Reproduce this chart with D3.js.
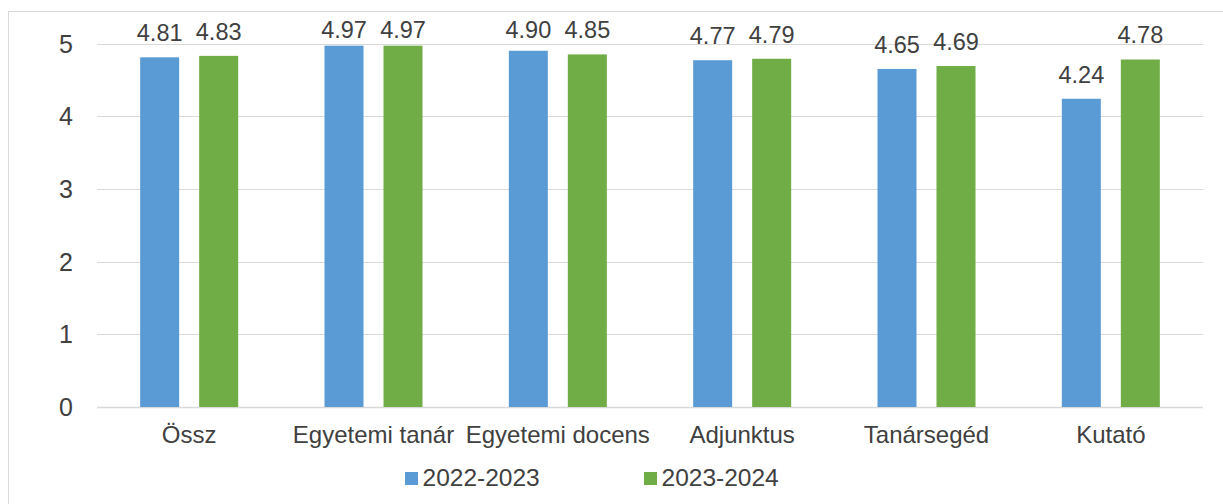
<!DOCTYPE html>
<html>
<head>
<meta charset="utf-8">
<script src="https://cdn.jsdelivr.net/npm/d3@7"></script>
<style>
  body { margin: 0; background: #fff; }
  svg { display: block; font-family: 'Liberation Sans', Arial, sans-serif; }
  .lbl { fill: #404040; }
</style>
</head>
<body>
<svg id="chart" width="1223" height="504"></svg>
<script>
const categories = ['Össz', 'Egyetemi tanár', 'Egyetemi docens', 'Adjunktus', 'Tanársegéd', 'Kutató']
const seriesNames = ['2022-2023', '2023-2024']
const values2022 = [4.81, 4.97, 4.90, 4.77, 4.65, 4.24]
const values2023 = [4.83, 4.97, 4.85, 4.79, 4.69, 4.78]
const yTicks = [0, 1, 2, 3, 4, 5]
const colors = ['#5B9BD5', '#70AD47']

const svg = d3.select('#chart')

// frame (only top and left edges show in the original)
svg.append('rect')
  .attr('x', 8.5).attr('y', 11.5)
  .attr('width', 1300).attr('height', 600)
  .attr('fill', 'none').attr('stroke', '#d9d9d9')

const left = 97, right = 1203
const x0 = d3.scaleBand().domain(categories).range([left, right])
const x1 = d3.scaleBand().domain(seriesNames).range([0, 98]).paddingInner(20 / 59)
const y = d3.scaleLinear().domain([0, 5]).range([407, 43.5])

// gridlines
svg.append('g')
  .selectAll('line')
  .data(yTicks)
  .join('line')
  .attr('x1', left).attr('x2', right)
  .attr('y1', d => Math.round(y(d)) + 0.5)
  .attr('y2', d => Math.round(y(d)) + 0.5)
  .attr('stroke', '#d9d9d9')
  .attr('stroke-width', d => d === 0 ? 1.5 : 1.2)

// y tick labels
svg.append('g')
  .selectAll('text')
  .data(yTicks)
  .join('text')
  .classed('lbl', true)
  .attr('x', 73)
  .attr('y', d => y(d))
  .attr('dy', '0.36em')
  .attr('text-anchor', 'end')
  .attr('font-size', 25)
  .text(d => d)

const rows = categories.map((c, i) => ({ cat: c, vals: [values2022[i], values2023[i]] }))

const groups = svg.append('g')
  .selectAll('g')
  .data(rows)
  .join('g')
  .attr('transform', d => `translate(${x0(d.cat) + x0.bandwidth() / 2 - 49}, 0)`)

groups.selectAll('rect')
  .data(d => d.vals.map((v, j) => ({ s: seriesNames[j], v, j })))
  .join('rect')
  .attr('x', d => x1(d.s))
  .attr('width', x1.bandwidth())
  .attr('y', d => y(d.v))
  .attr('height', d => y(0) - y(d.v))
  .attr('fill', d => colors[d.j])

// value labels (clamped to plot top, like Excel does)
groups.selectAll('text')
  .data(d => d.vals.map((v, j) => ({ s: seriesNames[j], v, j })))
  .join('text')
  .classed('lbl', true)
  .attr('x', d => x1(d.s) + x1.bandwidth() / 2)
  .attr('y', d => Math.max(y(d.v) - 16, 38))
  .attr('text-anchor', 'middle')
  .attr('font-size', 23.5)
  .text(d => d.v.toFixed(2))

// category labels
svg.append('g')
  .selectAll('text')
  .data(categories)
  .join('text')
  .classed('lbl', true)
  .attr('x', d => x0(d) + x0.bandwidth() / 2)
  .attr('y', 443)
  .attr('text-anchor', 'middle')
  .attr('font-size', 24)
  .text(d => d)

// legend
const legendX = [405, 644]
const legend = svg.append('g')
  .selectAll('g')
  .data(seriesNames)
  .join('g')
  .attr('transform', (d, i) => `translate(${legendX[i]}, 0)`)

legend.append('rect')
  .attr('x', 0).attr('y', 472)
  .attr('width', 13).attr('height', 13)
  .attr('fill', (d, i) => colors[i])

legend.append('text')
  .classed('lbl', true)
  .attr('x', 17.5)
  .attr('y', 485.5)
  .attr('font-size', 24.5)
  .text(d => d)
</script>
</body>
</html>
